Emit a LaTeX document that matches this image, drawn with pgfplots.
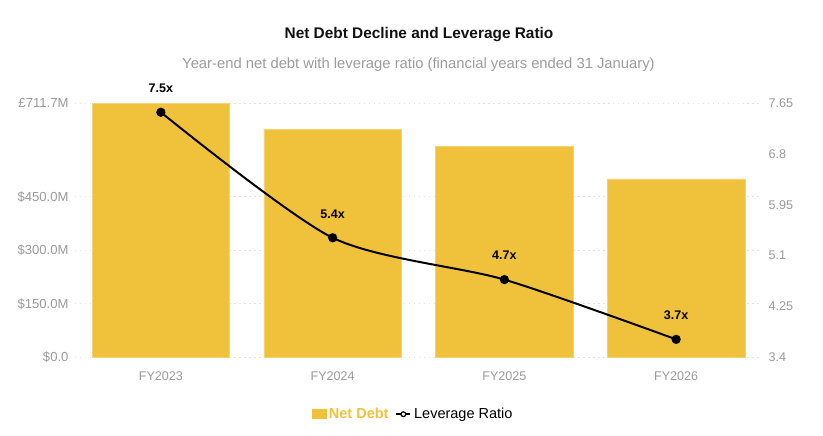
\documentclass[border=0pt]{standalone}
\usepackage{pgfplots}
\pgfplotsset{compat=1.18}
\usepackage{fontspec}
\setmainfont{Liberation Sans}
\definecolor{barcol}{HTML}{F0C23B}
\definecolor{baredge}{HTML}{F4D275}
\definecolor{tickgray}{HTML}{9A9A9A}
\definecolor{subgray}{HTML}{9C9C9C}
\definecolor{gridcol}{HTML}{E2E2E2}
\begin{document}
\begin{tikzpicture}
\useasboundingbox (0,0) rectangle (823bp,436bp);
\node[anchor=base, font=\fontsize{15.4bp}{18bp}\selectfont\bfseries, text=black!93] at (419bp,397.5bp) {Net Debt Decline and Leverage Ratio};
\node[anchor=base, font=\fontsize{14.8bp}{17bp}\selectfont, text=subgray] at (418.5bp,367.7bp) {Year-end net debt with leverage ratio (financial years ended 31 January)};
\begin{axis}[
  at={(75bp,78.7bp)}, anchor=south west,
  scale only axis, width=687bp, height=254bp,
  xmin=-0.5, xmax=3.5, ymin=0, ymax=711.7,
  axis line style={draw=none},
  major tick length=0pt,
  xtick={0,1,2,3}, xticklabels={FY2023,FY2024,FY2025,FY2026},
  ytick={0,150,300,450,711.7},
  yticklabels={\$0.0,\$150.0M,\$300.0M,\$450.0M,£711.7M},
  ymajorgrids,
  grid style={gridcol, line width=0.8pt, dash pattern=on 1.5pt off 3.5pt},
  ticklabel style={text=tickgray},
  yticklabel style={xshift=-3bp, font=\fontsize{13.1bp}{15bp}\selectfont},
  xticklabel style={yshift=-11bp, font=\fontsize{12.6bp}{15bp}\selectfont},
  clip=false,
]
\addplot[ybar, bar width=0.8, fill=barcol, draw=baredge, line width=0.6pt] coordinates {(0,711.7) (1,639) (2,592) (3,500)};
\end{axis}
\begin{axis}[
  at={(75bp,78.7bp)}, anchor=south west,
  scale only axis, width=687bp, height=254bp,
  xmin=-0.5, xmax=3.5, ymin=3.4, ymax=7.65,
  axis y line*=right, axis x line=none,
  axis line style={draw=none},
  major tick length=0pt,
  ytick={3.4,4.25,5.1,5.95,6.8,7.65},
  yticklabels={3.4,4.25,5.1,5.95,6.8,7.65},
  ticklabel style={font=\fontsize{12.6bp}{15bp}\selectfont, text=tickgray},
  yticklabel style={xshift=3bp},
  clip=false,
  legend columns=2,
  legend style={at={(0.492,-0.224)}, anchor=center, draw=none, fill=none,
    font=\fontsize{14.5bp}{16bp}\selectfont, column sep=5bp,
    /tikz/every odd column/.append style={column sep=1bp}},
  legend cell align=left,
]
\addlegendimage{legend image code/.code={\fill[barcol] (0bp,-4.5bp) rectangle (14bp,4.5bp);}}
\addlegendentry{\textcolor{barcol}{\bfseries Net Debt}}
\addlegendimage{legend image code/.code={
  \draw[black, line width=1.6pt] (0bp,0bp) -- (14bp,0bp);
  \draw[black, fill=white, line width=1.2pt] (7bp,0bp) circle (2.4bp);}}
\addlegendentry{Leverage Ratio}
\addplot[black, line width=2pt, smooth, tension=0.45, mark=*, mark size=3.6pt,
  mark options={fill=black},
  point meta=explicit symbolic,
  nodes near coords,
  every node near coord/.append style={anchor=center, yshift=24bp, font=\fontsize{12.5bp}{15bp}\selectfont\bfseries, text=black},
  forget plot]
  coordinates {(0,7.5)[7.5x] (1,5.4)[5.4x] (2,4.7)[4.7x] (3,3.7)[3.7x]};
\end{axis}
\end{tikzpicture}
\end{document}
